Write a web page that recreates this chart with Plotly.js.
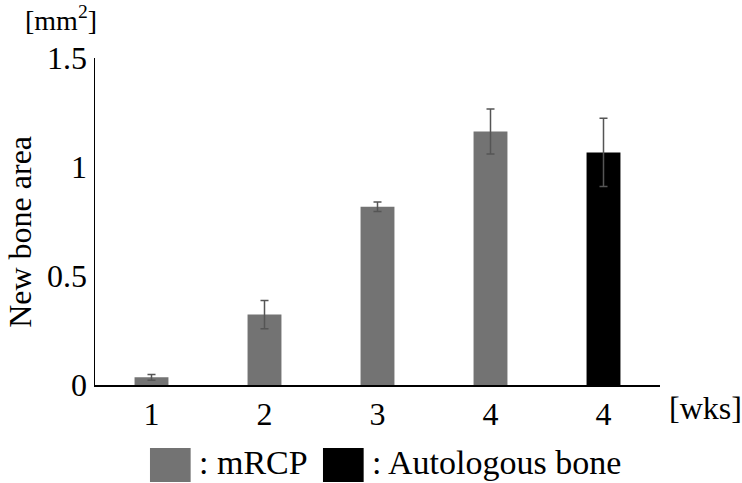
<!DOCTYPE html>
<html>
<head>
<meta charset="utf-8">
<script src="https://cdn.plot.ly/plotly-3.0.1.min.js"></script>
<style>
  html, body { margin: 0; padding: 0; background: #fff; }
  #plot { width: 742px; height: 483px; }
</style>
</head>
<body>
<div id="plot"></div>
<script>
// week labels on the x axis (two groups share "4")
var tickLabels = ['1', '2', '3', '4', '4'];
var seriesNames = ['mRCP', 'Autologous bone'];
var seriesColors = ['#737373', '#000000'];

// mRCP, weeks 1-4
var mrcpPos = [0, 1, 2, 3];
var mrcpArea = [0.035, 0.323, 0.818, 1.163];
var mrcpErr = [0.013, 0.065, 0.022, 0.103];

// autologous bone, week 4
var autoPos = [4];
var autoArea = [1.067];
var autoErr = [0.157];

var serif = '"Liberation Serif", "Times New Roman", Times, serif';

var trace0 = {
  x: mrcpPos,
  y: mrcpArea,
  name: seriesNames[0],
  type: 'bar',
  width: 0.3,
  marker: {color: seriesColors[0], line: {width: 0}},
  error_y: {type: 'data', array: mrcpErr, visible: true, color: '#555555', thickness: 1.5, width: 4},
  showlegend: false
};

var trace1 = {
  x: autoPos,
  y: autoArea,
  name: seriesNames[1],
  type: 'bar',
  width: 0.3,
  marker: {color: seriesColors[1], line: {width: 0}},
  error_y: {type: 'data', array: autoErr, visible: true, color: '#555555', thickness: 1.5, width: 4},
  showlegend: false
};

// hand-made legend below the plot: big squares + ": name"
var legendX = [0.0973, 0.4035];
var shapes = [];
var annotations = [];
for (var i = 0; i < seriesNames.length; i++) {
  shapes.push({
    type: 'rect', xref: 'paper', yref: 'paper',
    x0: legendX[i], x1: legendX[i] + 0.072, y0: -0.297, y1: -0.193,
    fillcolor: seriesColors[i], line: {width: 0}
  });
  annotations.push({
    xref: 'paper', yref: 'paper', x: legendX[i] + 0.084, y: -0.237,
    xanchor: 'left', yanchor: 'middle', showarrow: false,
    text: ': ' + seriesNames[i], font: {family: serif, size: 34, color: '#000'}
  });
}
annotations.push({
  xref: 'paper', yref: 'paper', x: 1.08, y: -0.07,
  xanchor: 'center', yanchor: 'middle', showarrow: false,
  text: '[wks]', font: {family: serif, size: 32, color: '#000'}
});
annotations.push({
  xref: 'paper', yref: 'paper', x: -0.06, y: 1.122,
  xanchor: 'center', yanchor: 'middle', showarrow: false,
  text: '[mm<sup>2</sup>]', font: {family: serif, size: 28, color: '#000'}
});
// y axis title, placed by hand to sit like the reference
annotations.push({
  xref: 'paper', yref: 'paper', x: -0.133, y: 0.468,
  xanchor: 'center', yanchor: 'middle', showarrow: false, textangle: -90,
  text: 'New bone area', font: {family: serif, size: 32, color: '#000'}
});

var layout = {
  width: 742,
  height: 483,
  margin: {l: 95, r: 82, t: 58, b: 98},
  paper_bgcolor: '#fff',
  plot_bgcolor: '#fff',
  barmode: 'overlay',
  font: {family: serif, size: 32, color: '#000'},
  xaxis: {
    range: [-0.5, 4.5],
    tickvals: mrcpPos.concat(autoPos),
    ticktext: tickLabels,
    showline: true, linecolor: '#000', linewidth: 1.5,
    showgrid: false, zeroline: false, ticks: '',
    tickfont: {family: serif, size: 32, color: '#000'}
  },
  yaxis: {
    range: [0, 1.5],
    tickvals: [0, 0.5, 1, 1.5],
    ticktext: ['0', '0.5', '1', '1.5'],
    showline: true, linecolor: '#000', linewidth: 1.5,
    showgrid: false, zeroline: false, ticks: '',
    tickfont: {family: serif, size: 32, color: '#000'}
  },
  shapes: shapes,
  annotations: annotations
};

Plotly.newPlot('plot', [trace0, trace1], layout, {displayModeBar: false, staticPlot: true});
</script>
</body>
</html>
